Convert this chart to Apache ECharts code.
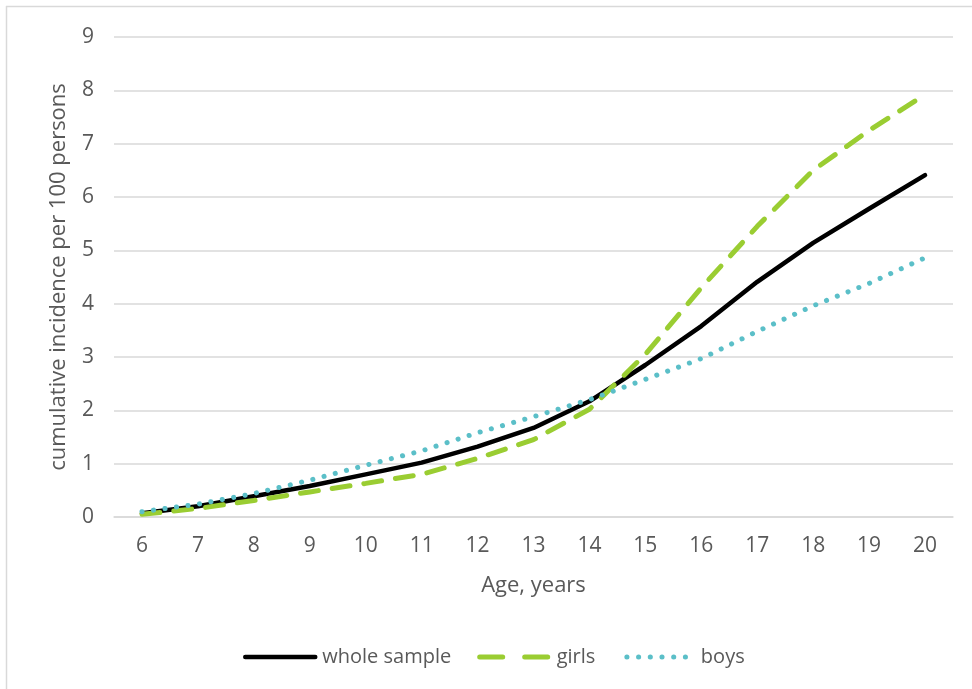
<!DOCTYPE html>
<html><head><meta charset="utf-8">
<script src="https://cdn.jsdelivr.net/npm/echarts@6/dist/echarts.min.js"></script>
<style>html,body{margin:0;padding:0;background:#fff}#c{width:972px;height:689px}</style>
</head><body><div id="c"></div>
<script>
const ages = ['6','7','8','9','10','11','12','13','14','15','16','17','18','19','20'];
const wholeSample = [0.07,0.2,0.39,0.58,0.8,1.02,1.32,1.67,2.17,2.85,3.58,4.41,5.14,5.78,6.41];
const girls = [0.05,0.16,0.31,0.47,0.63,0.8,1.1,1.45,2.02,3.05,4.3,5.45,6.5,7.25,7.92];
const boys = [0.1,0.24,0.44,0.69,0.97,1.24,1.58,1.88,2.2,2.58,2.97,3.48,3.96,4.38,4.86];
const yTicks = [0,1,2,3,4,5,6,7,8,9];

const font = '"Open Sans", sans-serif';
const txt = '#595959';
const blackStyle = {color:'#000',width:4.5,cap:'round',join:'round'};
const girlsStyle = {color:'#9acd32',width:5,type:[18,14],cap:'round'};
const boysStyle = {color:'#5bbfc8',width:5,type:[0.1,11.5],cap:'round'};
const chart = echarts.init(document.getElementById('c'));
chart.setOption({
  animation:false,
  backgroundColor:'#fff',
  graphic:[
    {type:'line',shape:{x1:6,y1:6.5,x2:972,y2:6.5},style:{stroke:'#d9d9d9',lineWidth:1.5}},
    {type:'line',shape:{x1:6.5,y1:6,x2:6.5,y2:689},style:{stroke:'#d9d9d9',lineWidth:1.5}}
  ],
  grid:{left:114,right:19,top:37,bottom:172},
  legend:{
    top:642,left:238,itemWidth:70,itemHeight:10,itemGap:26,
    textStyle:{color:txt,fontSize:20,fontFamily:font,padding:[0,0,0,2]},
    itemStyle:{opacity:0},
    data:[
      {name:'whole sample',lineStyle:blackStyle},
      {name:'girls',lineStyle:{color:'#9acd32',width:5,type:[23,22],cap:'round'}},
      {name:'boys',lineStyle:{color:'#5bbfc8',width:5,type:[0.1,11.6],cap:'round',dashOffset:-3}}
    ]
  },
  xAxis:{
    type:'category',data:ages,boundaryGap:true,
    name:'Age, years',nameLocation:'middle',nameGap:58,
    nameTextStyle:{color:txt,fontSize:22,fontFamily:font},
    axisLine:{show:true,lineStyle:{color:'#d9d9d9',width:1.5}},
    axisTick:{show:false},
    axisLabel:{color:txt,fontSize:21,fontFamily:font,margin:19}
  },
  yAxis:{
    type:'value',min:yTicks[0],max:yTicks[yTicks.length-1],interval:1,
    name:'cumulative incidence per 100 persons',nameLocation:'middle',nameGap:44,
    nameTextStyle:{color:txt,fontSize:22,fontFamily:font},
    axisLine:{show:false},axisTick:{show:false},
    axisLabel:{color:txt,fontSize:21,fontFamily:font,margin:20},
    splitLine:{lineStyle:{color:'#d9d9d9',width:1.5}}
  },
  series:[
    {name:'whole sample',type:'line',data:wholeSample,symbol:'none',
     itemStyle:{color:'#000'},lineStyle:blackStyle},
    {name:'girls',type:'line',data:girls,symbol:'none',
     itemStyle:{color:'#9acd32'},lineStyle:girlsStyle},
    {name:'boys',type:'line',data:boys,symbol:'none',
     itemStyle:{color:'#5bbfc8'},lineStyle:boysStyle}
  ]
});
</script></body></html>
